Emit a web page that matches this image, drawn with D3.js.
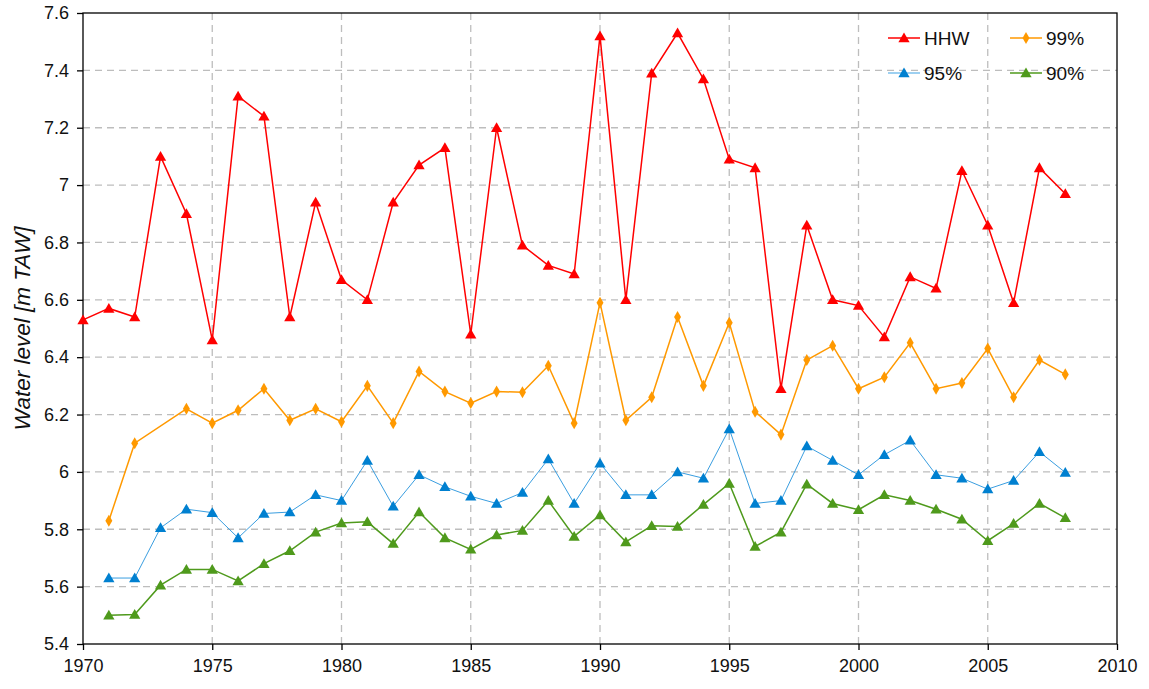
<!DOCTYPE html>
<html>
<head>
<meta charset="utf-8">
<script src="https://cdn.jsdelivr.net/npm/d3@7"></script>
<style>
  body { margin: 0; background: #fff; }
  svg { font-family: "Liberation Sans", Arial, sans-serif; }
  .grid line { stroke: #bdbdbd; stroke-width: 1.3; stroke-dasharray: 7,5; }
  .axis path, .axis line { stroke: #000; stroke-width: 1.3; }
  .axis text { font-size: 18px; fill: #111; }
</style>
</head>
<body>
<div id="chart"></div>
<script>
//Width and height
var w = 1149;
var h = 689;
var margin = { left: 83, right: 32, top: 13, bottom: 45 };

var years = d3.range(1970, 2009);

// HHW 1970-2008
var hhw = [6.53, 6.57, 6.54, 7.10, 6.90, 6.46, 7.31, 7.24, 6.54, 6.94,
    6.67, 6.60, 6.94, 7.07, 7.13, 6.48, 7.20, 6.79, 6.72, 6.69,
    7.52, 6.60, 7.39, 7.53, 7.37, 7.09, 7.06, 6.29, 6.86, 6.60,
    6.58, 6.47, 6.68, 6.64, 7.05, 6.86, 6.59, 7.06, 6.97];

// 99% 1970-2008 (null = no value)
var p99 = [null, 5.83, 6.10, null, 6.22, 6.17, 6.215, 6.29, 6.18, 6.22,
    6.175, 6.30, 6.17, 6.35, 6.28, 6.24, 6.28, 6.278, 6.37, 6.17,
    6.59, 6.18, 6.26, 6.54, 6.30, 6.52, 6.21, 6.13, 6.39, 6.44,
    6.29, 6.33, 6.45, 6.29, 6.31, 6.43, 6.26, 6.39, 6.34];

// 95%
var p95 = [null, 5.63, 5.63, 5.805, 5.87, 5.858, 5.77, 5.855, 5.86, 5.92,
    5.90, 6.04, 5.88, 5.99, 5.948, 5.915, 5.89, 5.928, 6.045, 5.89,
    6.03, 5.92, 5.92, 6.00, 5.978, 6.15, 5.89, 5.90, 6.09, 6.04,
    5.99, 6.06, 6.11, 5.99, 5.978, 5.94, 5.97, 6.07, 5.998];

// 90%
var p90 = [null, 5.50, 5.503, 5.605, 5.66, 5.66, 5.62, 5.68, 5.725, 5.79,
    5.822, 5.826, 5.75, 5.86, 5.77, 5.73, 5.78, 5.796, 5.90, 5.775,
    5.85, 5.756, 5.812, 5.81, 5.886, 5.96, 5.74, 5.79, 5.957, 5.89,
    5.868, 5.92, 5.90, 5.87, 5.835, 5.76, 5.82, 5.89, 5.84];

var xTicks = [1970, 1975, 1980, 1985, 1990, 1995, 2000, 2005, 2010];
var yTicks = [5.4, 5.6, 5.8, 6, 6.2, 6.4, 6.6, 6.8, 7, 7.2, 7.4, 7.6];

var seriesList = [
    { name: "HHW", values: hhw, line: "#ff0000", mark: "#ff0000", width: 1.5, shape: "tri" },
    { name: "99%", values: p99, line: "#ff9900", mark: "#ff9900", width: 1.5, shape: "dia" },
    { name: "95%", values: p95, line: "#3a9ee0", mark: "#0080d0", width: 1, shape: "tri" },
    { name: "90%", values: p90, line: "#4f9a1c", mark: "#4f9a1c", width: 1.5, shape: "tri" }
];

var svg = d3.select("#chart")
    .append("svg")
    .attr("width", w)
    .attr("height", h);

//Create scale functions
var xScale = d3.scaleLinear()
    .domain([1970, 2010])
    .range([margin.left, w - margin.right]);

var yScale = d3.scaleLinear()
    .domain([5.4, 7.6])
    .range([h - margin.bottom, margin.top]);

//Grid
svg.append("g")
    .attr("class", "grid")
    .selectAll("line.h")
    .data(yTicks.slice(1, -1))
    .enter()
    .append("line")
    .attr("x1", xScale(1970))
    .attr("x2", xScale(2010))
    .attr("y1", function (d) { return yScale(d); })
    .attr("y2", function (d) { return yScale(d); });

svg.append("g")
    .attr("class", "grid")
    .selectAll("line.v")
    .data(xTicks.slice(1, -1))
    .enter()
    .append("line")
    .attr("x1", function (d) { return xScale(d); })
    .attr("x2", function (d) { return xScale(d); })
    .attr("y1", yScale(7.6))
    .attr("y2", yScale(5.4));

//Frame
svg.append("rect")
    .attr("x", xScale(1970))
    .attr("y", yScale(7.6))
    .attr("width", xScale(2010) - xScale(1970))
    .attr("height", yScale(5.4) - yScale(7.6))
    .attr("fill", "none")
    .attr("stroke", "#000")
    .attr("stroke-width", 1.3);

//Axes
var xAxis = d3.axisBottom(xScale)
    .tickValues(xTicks)
    .tickFormat(d3.format("d"))
    .tickSize(6)
    .tickSizeOuter(0)
    .tickPadding(9);

var yAxis = d3.axisLeft(yScale)
    .tickValues(yTicks)
    .tickFormat(function (d) { return d3.format("")(+d.toFixed(1)); })
    .tickSize(6)
    .tickSizeOuter(0)
    .tickPadding(8);

svg.append("g")
    .attr("class", "axis")
    .attr("transform", "translate(0," + (h - margin.bottom) + ")")
    .call(xAxis);

svg.append("g")
    .attr("class", "axis")
    .attr("transform", "translate(" + margin.left + ",0)")
    .call(yAxis);

svg.selectAll(".axis .domain").remove();

//Y title
svg.append("text")
    .attr("transform", "translate(30," + ((yScale(5.4) + yScale(7.6)) / 2) + ") rotate(-90)")
    .attr("text-anchor", "middle")
    .style("font-size", "22.5px")
    .style("font-style", "italic")
    .attr("fill", "#111")
    .text("Water level [m TAW]");

var triangle = d3.symbol().type(d3.symbolTriangle).size(55);
var diamond = d3.symbol().type(d3.symbolDiamond).size(42);

function drawMarker(g, s, x, y) {
    g.append("path")
        .attr("d", s.shape === "tri" ? triangle() : diamond())
        .attr("transform", "translate(" + x + "," + (y + (s.shape === "tri" ? 1 : 0)) + ")")
        .attr("fill", s.mark);
}

//Lines and markers
seriesList.forEach(function (s) {
    var pts = [];
    s.values.forEach(function (v, i) {
        if (v !== null) pts.push([years[i], v]);
    });
    var line = d3.line()
        .x(function (d) { return xScale(d[0]); })
        .y(function (d) { return yScale(d[1]); });
    var g = svg.append("g");
    g.append("path")
        .datum(pts)
        .attr("d", line)
        .attr("fill", "none")
        .attr("stroke", s.line)
        .attr("stroke-width", s.width);
    pts.forEach(function (d) {
        drawMarker(g, s, xScale(d[0]), yScale(d[1]));
    });
});

//Legend
var legendPos = [[888, 38], [1010, 38], [888, 73], [1010, 73]];
seriesList.forEach(function (s, i) {
    var g = svg.append("g")
        .attr("transform", "translate(" + legendPos[i][0] + "," + legendPos[i][1] + ")");
    g.append("line")
        .attr("x1", 0).attr("x2", 32)
        .attr("y1", 0).attr("y2", 0)
        .attr("stroke", s.name === "95%" ? "#7cc0ec" : s.line)
        .attr("stroke-width", 1.5);
    drawMarker(g, s, 16, 0);
    g.append("text")
        .attr("x", 36)
        .attr("y", 7)
        .style("font-size", "19px")
        .attr("fill", "#111")
        .text(s.name);
});
</script>
</body>
</html>
